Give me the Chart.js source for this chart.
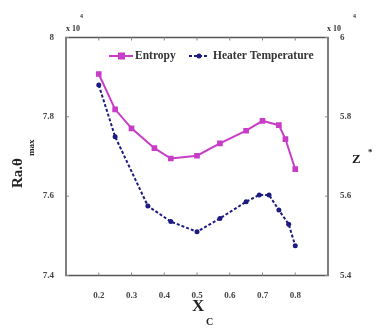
<!DOCTYPE html>
<html>
<head>
<meta charset="utf-8">
<script src="https://cdn.jsdelivr.net/npm/chart.js@4"></script>
<style>
  html, body { margin: 0; padding: 0; background: #fff; }
  #wrap { width: 378px; height: 330px; }
</style>
</head>
<body>
<div id="wrap"><canvas id="c" width="378" height="330"></canvas></div>
<script>
// values (units of 10^4)
const xEntropy = [0.2, 0.25, 0.3, 0.37, 0.42, 0.5, 0.57, 0.65, 0.7, 0.75, 0.77, 0.8];
const entropy  = [5.908, 5.819, 5.771, 5.721, 5.695, 5.702, 5.733, 5.765, 5.790, 5.779, 5.744, 5.668];
const xHeater  = [0.2, 0.25, 0.35, 0.42, 0.5, 0.57, 0.65, 0.69, 0.72, 0.75, 0.78, 0.8];
const heater   = [7.880, 7.750, 7.575, 7.536, 7.510, 7.544, 7.586, 7.603, 7.603, 7.565, 7.529, 7.475];
const xTicks     = [0.2, 0.3, 0.4, 0.5, 0.6, 0.7, 0.8];
const leftTicks  = [7.4, 7.6, 7.8, 8];
const rightTicks = [5.4, 5.6, 5.8, 6];

const MAG = '#c83cc8';
const NAVY = '#1c1c80';
const SERIF = '"Liberation Serif", "DejaVu Serif", serif';
const tickFont = { family: SERIF, size: 9, weight: 'bold' };

// box, inward ticks, legend and axis titles
const decor = {
  id: 'decor',
  afterDraw(chart) {
    const ctx = chart.ctx;
    const a = chart.chartArea;
    const sx = chart.scales.x, sl = chart.scales.y, sr = chart.scales.y1;
    ctx.save();
    ctx.strokeStyle = '#555';
    ctx.lineWidth = 1.5;
    ctx.strokeRect(a.left, a.top, a.right - a.left, a.bottom - a.top);
    ctx.lineWidth = 1;
    ctx.strokeStyle = '#888';
    ctx.beginPath();
    xTicks.forEach(v => {
      const p = sx.getPixelForValue(v);
      ctx.moveTo(p, a.bottom); ctx.lineTo(p, a.bottom - 3);
      ctx.moveTo(p, a.top); ctx.lineTo(p, a.top + 3);
    });
    leftTicks.forEach(v => {
      const p = sl.getPixelForValue(v);
      ctx.moveTo(a.left, p); ctx.lineTo(a.left + 3, p);
    });
    rightTicks.forEach(v => {
      const p = sr.getPixelForValue(v);
      ctx.moveTo(a.right, p); ctx.lineTo(a.right - 3, p);
    });
    ctx.stroke();

    // legend
    const ly = 56;
    ctx.lineWidth = 2;
    ctx.strokeStyle = MAG;
    ctx.beginPath(); ctx.moveTo(109, ly); ctx.lineTo(133, ly); ctx.stroke();
    ctx.fillStyle = MAG;
    ctx.fillRect(118, ly - 3.5, 7, 7);
    ctx.strokeStyle = NAVY;
    ctx.setLineDash([3, 2]);
    ctx.beginPath(); ctx.moveTo(189, ly); ctx.lineTo(209, ly); ctx.stroke();
    ctx.setLineDash([]);
    ctx.fillStyle = NAVY;
    ctx.beginPath(); ctx.arc(199, ly, 2.5, 0, Math.PI * 2); ctx.fill();
    ctx.fillStyle = '#333';
    ctx.font = 'bold 11.5px ' + SERIF;
    ctx.textBaseline = 'middle';
    ctx.fillText('Entropy', 135, ly);
    ctx.fillText('Heater Temperature', 213, ly);

    // exponent labels
    ctx.font = 'bold 8px ' + SERIF;
    ctx.textBaseline = 'alphabetic';
    ctx.fillText('x 10', 66, 31);
    ctx.fillText('x 10', 327, 31);
    ctx.font = 'bold 6px ' + SERIF;
    ctx.fillText('4', 80, 18);
    ctx.fillText('4', 353, 18);

    // x title
    ctx.fillStyle = '#222';
    ctx.font = 'bold 17px ' + SERIF;
    ctx.fillText('X', 192, 311);
    ctx.font = 'bold 10px ' + SERIF;
    ctx.fillText('C', 206, 325);

    // right title
    ctx.font = 'bold 13px ' + SERIF;
    ctx.fillText('Z', 352, 163);
    ctx.font = 'bold 9px ' + SERIF;
    ctx.fillText('*', 368, 155);

    // left title (rotated)
    ctx.translate(22, 188);
    ctx.rotate(-Math.PI / 2);
    ctx.font = 'bold 15px ' + SERIF;
    ctx.fillText('Ra.θ', 0, 0);
    const w = ctx.measureText('Ra.θ').width;
    ctx.font = 'bold 9px ' + SERIF;
    ctx.fillText('max', w + 2, 12);
    ctx.restore();
  }
};

new Chart(document.getElementById('c'), {
  type: 'line',
  data: {
    datasets: [
      {
        label: 'Entropy',
        data: xEntropy.map((x, i) => ({ x: x, y: entropy[i] })),
        yAxisID: 'y1',
        borderColor: MAG,
        backgroundColor: MAG,
        borderWidth: 2,
        pointStyle: 'rect',
        pointRadius: 4,
        pointBorderWidth: 0,
        tension: 0
      },
      {
        label: 'Heater Temperature',
        data: xHeater.map((x, i) => ({ x: x, y: heater[i] })),
        yAxisID: 'y',
        borderColor: NAVY,
        backgroundColor: NAVY,
        borderWidth: 2,
        borderDash: [3, 2],
        pointStyle: 'circle',
        pointRadius: 2.5,
        pointBorderWidth: 0,
        tension: 0
      }
    ]
  },
  options: {
    responsive: false,
    animation: false,
    layout: { padding: { top: 37.5, left: 0, right: 0, bottom: 0 } },
    plugins: { legend: { display: false }, tooltip: { enabled: false } },
    scales: {
      x: {
        type: 'linear', min: 0.1, max: 0.9,
        afterBuildTicks: s => { s.ticks = xTicks.map(v => ({ value: v })); },
        afterFit: s => { s.height = 54.5; },
        grid: { display: false },
        border: { display: false },
        ticks: { font: tickFont, color: '#444', padding: 7, callback: v => v.toFixed(1) }
      },
      y: {
        position: 'left', min: 7.4, max: 8,
        afterBuildTicks: s => { s.ticks = leftTicks.map(v => ({ value: v })); },
        afterFit: s => { s.width = 66; },
        grid: { display: false },
        border: { display: false },
        ticks: { font: tickFont, color: '#444', padding: 4, callback: v => String(v) }
      },
      y1: {
        position: 'right', min: 5.4, max: 6,
        afterBuildTicks: s => { s.ticks = rightTicks.map(v => ({ value: v })); },
        afterFit: s => { s.width = 50; },
        grid: { display: false },
        border: { display: false },
        ticks: { font: tickFont, color: '#444', padding: 4, callback: v => String(v) }
      }
    }
  },
  plugins: [decor]
});
</script>
</body>
</html>
